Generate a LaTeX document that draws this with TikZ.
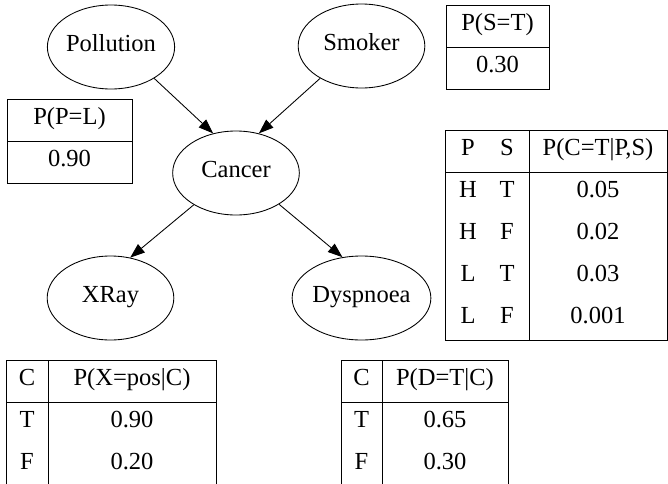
\documentclass[tikz,border=0pt]{standalone}
\usepackage{fontspec}
\setmainfont{Liberation Serif}
\usetikzlibrary{shapes.geometric,arrows.meta}
\tikzset{
    cell/.style={inner sep=0pt, text height=0.68em, text depth=0pt},
    var/.style={cell, ellipse, draw, minimum width=95pt, minimum height=63pt},
    edge/.style={-{Triangle[length=11pt,width=8pt]}},
}
\begin{document}
\begin{tikzpicture}[x=0.75pt, y=-0.75pt, line width=0.65pt, font=\fontsize{18.4}{22}\selectfont]
    \useasboundingbox (0,0) rectangle (668,483);
    \clip (0,0) rectangle (668,483);
    % the network
    \node[var] (pollution) at (111,47) {Pollution};
    \node[var] (smoker) at (361.5,46) {Smoker};
    \node[var] (cancer) at (236,173) {Cancer};
    \node[var] (xray) at (110.5,298) {XRay};
    \node[var] (dyspnoea) at (361.5,298) {Dyspnoea};
    % edges leave and enter off the centre line
    \draw[edge] (pollution.-36) -- (cancer.120);
    \draw[edge] (smoker.-142) -- (cancer.60);
    \draw[edge] (cancer.-143) -- (xray.64);
    \draw[edge] (cancer.-36) -- (dyspnoea.115);
    % prior tables
    \draw (7,99) rectangle (132,183) (7,141) -- (132,141);
    \node[cell] (pl-head) at (69.5,120) {P(P=L)};
    \node[cell] (pl-val) at (69.5,162) {0.90};
    \draw (446,5) rectangle (549,89) (446,47) -- (549,47);
    \node[cell] (st-head) at (497.5,26) {P(S=T)};
    \node[cell] (st-val) at (497.5,68) {0.30};
    % table for cancer, one row every 42
    \draw (445,130) rectangle (667.5,340) (445,172) -- (667.5,172) (529,130) -- (529,340);
    \node[cell] (ct-p) at (468,151) {P};
    \node[cell] (ct-s) at (507,151) {S};
    \node[cell] (ct-head) at (598,151) {P(C=T|P,S)};
    \foreach \p/\s/\v [count=\i] in {H/T/0.05, H/F/0.02, L/T/0.03, L/F/0.001}{
        \node[cell] (ct-p\i) at (468,151+42*\i) {\p};
        \node[cell] (ct-s\i) at (507,151+42*\i) {\s};
        \node[cell] (ct-v\i) at (598,151+42*\i) {\v};
    }
    % tables for the two children, cut at the bottom
    \draw (6,495) -- (6,360) -- (216,360) -- (216,495) (6,402) -- (216,402) (48,360) -- (48,495);
    \node[cell] (xt-c) at (27,381) {C};
    \node[cell] (xt-head) at (132,381) {P(X=pos|C)};
    \draw (341,495) -- (341,360) -- (508,360) -- (508,495) (341,402) -- (508,402) (382,360) -- (382,495);
    \node[cell] (dt-c) at (361.5,381) {C};
    \node[cell] (dt-head) at (445,381) {P(D=T|C)};
    \foreach \c/\x/\d [count=\i] in {T/0.90/0.65, F/0.20/0.30}{
        \node[cell] (xt-c\i) at (27,381+42*\i) {\c};
        \node[cell] (xt-v\i) at (132,381+42*\i) {\x};
        \node[cell] (dt-c\i) at (361.5,381+42*\i) {\c};
        \node[cell] (dt-v\i) at (445,381+42*\i) {\d};
    }
\end{tikzpicture}
\end{document}
